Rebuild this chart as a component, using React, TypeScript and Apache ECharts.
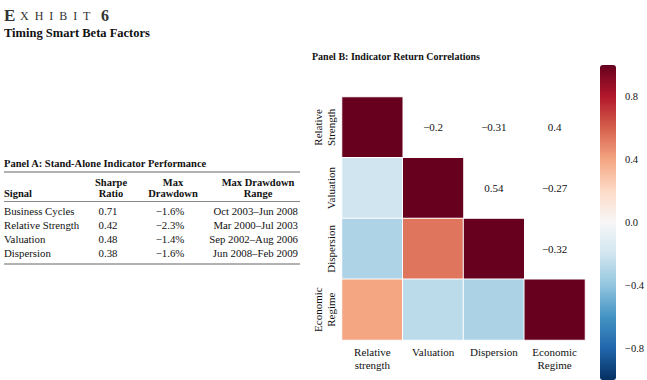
import React, { useEffect, useRef } from 'react';
import * as echarts from 'echarts';

const FONT = '"Liberation Serif", "Times New Roman", serif';
const INK = '#111111';

// Panel B data
const factorsX = ['Relative\nstrength', 'Valuation', 'Dispersion', 'Economic\nRegime'];
const factorsY = ['Relative\nStrength', 'Valuation', 'Dispersion', 'Economic\nRegime'];
const corrRelStrength = [1, -0.2, -0.31, 0.4];
const corrValuation = [-0.2, 1, 0.54, -0.27];
const corrDispersion = [-0.31, 0.54, 1, -0.32];
const corrEconRegime = [0.4, -0.27, -0.32, 1];
const colorbarTicks = [0.8, 0.4, 0, -0.4, -0.8];
const rdBuR = ['#053061', '#2166ac', '#4393c3', '#92c5de', '#d1e5f0', '#f7f7f7', '#fddbc7', '#f4a582', '#d6604d', '#b2182b', '#67001f'];

// Panel A data
const tableHeader1 = ['', 'Sharpe', 'Max', 'Max Drawdown'];
const tableHeader2 = ['Signal', 'Ratio', 'Drawdown', 'Range'];
const signals = ['Business Cycles', 'Relative Strength', 'Valuation', 'Dispersion'];
const sharpeRatios = [0.71, 0.42, 0.48, 0.38];
const maxDrawdowns = [-1.6, -2.3, -1.4, -1.6];
const drawdownRanges = ['Oct 2003–Jun 2008', 'Mar 2000–Jul 2003', 'Sep 2002–Aug 2006', 'Jun 2008–Feb 2009'];

const fmt = (v: number) => (v < 0 ? '\u2212' + String(Math.abs(v)) : String(v));

export default function App() {
  const ref = useRef<HTMLDivElement>(null);
  useEffect(() => {
    if (!ref.current) return;
    const chart = echarts.init(ref.current, null, { renderer: 'svg' });
    const corr = [corrRelStrength, corrValuation, corrDispersion, corrEconRegime];
    const lower: any[] = [];
    const upper: any[] = [];
    corr.forEach((row, i) =>
      row.forEach((v, j) => {
        if (j <= i) lower.push([j, i, v]);
        else upper.push([j, i, v]);
      })
    );

    const txt = (text: string, x: number, y: number, size: number, bold = false, align = 'left', fill = INK) => ({
      type: 'text',
      x,
      y,
      silent: true,
      style: {
        text,
        font: `${bold ? 'bold ' : ''}${size}px ${FONT}`,
        fill,
        textAlign: align,
        textVerticalAlign: 'middle',
      },
    });
    const hline = (y: number, x1: number, x2: number, color: string, w: number) => ({
      type: 'line',
      silent: true,
      shape: { x1, y1: y, x2, y2: y },
      style: { stroke: color, lineWidth: w },
    });

    const headX = [4, 111, 173, 258];
    const headAlign = ['left', 'center', 'center', 'center'];
    const colX = [4, 108, 170, 298];
    const colAlign = ['left', 'center', 'center', 'right'];
    const graphics: any[] = [
      txt('E', 4, 15, 17, true, 'left', '#333'),
      txt('X  H  I  B  I  T', 20, 16, 12, false, 'left', '#333'),
      txt('6', 101, 15, 16, true, 'left', '#333'),
      txt('Timing Smart Beta Factors', 4, 33, 12.5, true),
      txt('Panel A: Stand-Alone Indicator Performance', 4, 163, 10.5, true),
      hline(172, 4, 300, '#999', 1.5),
      txt('Panel B: Indicator Return Correlations', 312, 56, 10, true),
    ];
    tableHeader1.forEach((h, k) => graphics.push(txt(h, headX[k], 182, 10.5, true, headAlign[k])));
    tableHeader2.forEach((h, k) => graphics.push(txt(h, headX[k], 193.5, 10.5, true, headAlign[k])));
    graphics.push(hline(201.5, 4, 300, '#888', 1.2));
    signals.forEach((s, r) => {
      const y = 210.5 + r * 14.2;
      const cells = [s, sharpeRatios[r].toFixed(2), fmt(maxDrawdowns[r]) + '%', drawdownRanges[r]];
      cells.forEach((c, k) => graphics.push(txt(c, colX[k], y, 10.8, false, colAlign[k])));
    });
    graphics.push(hline(264, 4, 300, '#999', 1.5));

    chart.setOption({
      animation: false,
      backgroundColor: '#fff',
      textStyle: { fontFamily: FONT, color: INK },
      grid: [
        { left: 342, top: 97, width: 243, height: 243 },
        { left: 600, top: 65, width: 16, height: 315 },
      ],
      xAxis: [
        {
          type: 'category',
          data: factorsX,
          gridIndex: 0,
          axisLine: { show: false },
          axisTick: { show: false },
          splitLine: { show: false },
          axisLabel: { interval: 0, fontFamily: FONT, fontSize: 11, color: INK, margin: 6, lineHeight: 12.5 },
        },
        { type: 'value', gridIndex: 1, show: false, min: 0, max: 1 },
      ],
      yAxis: [
        {
          type: 'category',
          data: factorsY,
          gridIndex: 0,
          inverse: true,
          axisLine: { show: false },
          axisTick: { show: false },
          splitLine: { show: false },
          axisLabel: { interval: 0, fontFamily: FONT, fontSize: 11, color: INK, margin: 5, lineHeight: 12.5, rotate: 90 },
        },
        {
          type: 'value',
          gridIndex: 1,
          position: 'right',
          min: -1,
          max: 1,
          interval: 0.2,
          axisLine: { show: false },
          axisTick: { show: false },
          splitLine: { show: false },
          axisLabel: {
            fontFamily: FONT,
            fontSize: 10.5,
            color: INK,
            margin: 9,
            formatter: (v: number) => {
              const t = colorbarTicks.find((c) => Math.abs(c - v) < 1e-6);
              return t === undefined ? '' : t === 0 ? '0.0' : fmt(t);
            },
          },
        },
      ],
      visualMap: [
        {
          type: 'continuous',
          min: -1,
          max: 1,
          seriesIndex: 0,
          calculable: false,
          orient: 'vertical',
          left: 600,
          top: 65,
          padding: 0,
          itemWidth: 16,
          itemHeight: 315,
          text: ['', ''],
          inRange: { color: rdBuR },
        },
        {
          type: 'continuous',
          show: false,
          min: -1,
          max: 1,
          seriesIndex: 1,
          inRange: { color: ['rgba(255,255,255,0)', 'rgba(255,255,255,0)'] },
        },
      ],
      series: [
        {
          type: 'heatmap',
          xAxisIndex: 0,
          yAxisIndex: 0,
          data: lower,
          itemStyle: { borderColor: '#fff', borderWidth: 1 },
          emphasis: { disabled: true },
        },
        {
          type: 'heatmap',
          xAxisIndex: 0,
          yAxisIndex: 0,
          data: upper,
          silent: true,
          emphasis: { disabled: true },
          label: {
            show: true,
            fontFamily: FONT,
            fontSize: 11,
            color: INK,
            formatter: (p: any) => fmt(p.value[2]),
          },
        },
      ],
      graphic: graphics,
    });
    return () => chart.dispose();
  }, []);
  return <div ref={ref} style={{ position: 'fixed', left: 0, top: 0, width: 647, height: 380, background: '#fff' }} />;
}
